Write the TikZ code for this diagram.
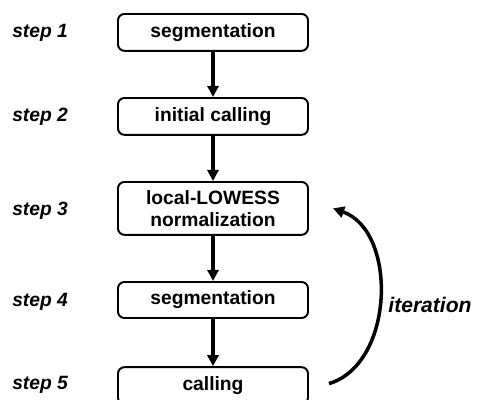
\documentclass[tikz,border=0pt]{standalone}
\usepackage{fontspec}
\setmainfont{Liberation Sans}
\usetikzlibrary{arrows.meta}

\begin{document}
\begin{tikzpicture}[
    stepbox/.style={draw, line width=1.4pt, rounded corners=1.6mm, minimum width=4.75cm,
                    minimum height=0.92cm, align=center, inner sep=2pt,
                    font=\fontsize{13.7}{15.6}\selectfont\bfseries},
    steplabel/.style={anchor=west, inner sep=0pt, font=\fontsize{13.7}{16}\selectfont\bfseries\itshape},
    flow/.style={line width=2.5pt, -{Triangle[length=2.8mm, width=2.8mm]}}]
    \useasboundingbox (0,0) rectangle (12.25,10);
    \node[stepbox] (b1) at (5.325, 9.19) {segmentation};
    \node[stepbox] (b2) at (5.325, 7.09) {initial calling};
    \node[stepbox, minimum height=1.32cm] (b3) at (5.325, 4.79) {local-LOWESS\\normalization};
    \node[stepbox, minimum height=0.9cm] (b4) at (5.325, 2.5) {segmentation};
    \node[stepbox] (b5) at (5.325, 0.36) {calling};
    \foreach \y [count=\c] in {9.18, 7.08, 4.72, 2.46, 0.37} {
      \node[steplabel] (s\c) at (0.3,\y) {step \c};
    }
    \draw[flow] (b1) -- (b2);
    \draw[flow] (b2) -- (b3);
    \draw[flow] (b3) -- (b4);
    \draw[flow] (b4) -- (b5);
    \coordinate (loopstart) at ([xshift=0.5cm, yshift=0.05cm]b5.east);
    \coordinate (loopend) at ([xshift=0.6cm]b3.east);
    \draw[flow] (loopstart) to[bend right=72] (loopend);
    \node[inner sep=0pt, font=\fontsize{15}{18}\selectfont\bfseries\itshape] (it) at (10.75, 2.38) {iteration};
\end{tikzpicture}
\end{document}
